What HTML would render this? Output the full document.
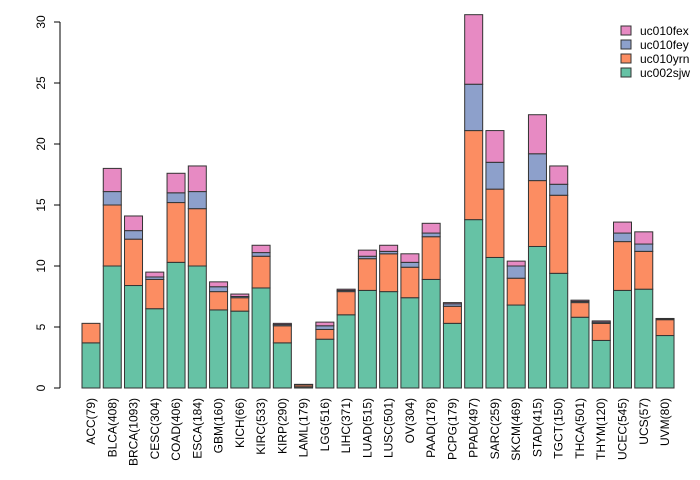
<!DOCTYPE html>
<html><head><meta charset="utf-8"><style>
body{margin:0;background:#fff}
svg{display:block;font-family:"Liberation Sans",sans-serif}
</style></head><body>
<svg id="chart" width="700" height="480"></svg>
<script>
const categories=["ACC(79)","BLCA(408)","BRCA(1093)","CESC(304)","COAD(406)","ESCA(184)","GBM(160)","KICH(66)","KIRC(533)","KIRP(290)","LAML(179)","LGG(516)","LIHC(371)","LUAD(515)","LUSC(501)","OV(304)","PAAD(178)","PCPG(179)","PPAD(497)","SARC(259)","SKCM(469)","STAD(415)","TGCT(150)","THCA(501)","THYM(120)","UCEC(545)","UCS(57)","UVM(80)"];
const seriesNames=["uc002sjw","uc010yrn","uc010fey","uc010fex"];
const uc002sjw=[3.7,10.0,8.4,6.5,10.3,10.0,6.4,6.3,8.2,3.7,0.1,4.0,6.0,8.0,7.9,7.4,8.9,5.3,13.8,10.7,6.8,11.6,9.4,5.8,3.9,8.0,8.1,4.3];
const uc010yrn=[1.6,5.0,3.8,2.4,4.9,4.7,1.5,1.1,2.6,1.4,0.15,0.8,1.9,2.6,3.1,2.5,3.5,1.4,7.3,5.6,2.2,5.4,6.4,1.2,1.4,4.0,3.1,1.3];
const uc010fey=[0,1.1,0.7,0.2,0.8,1.4,0.4,0.1,0.3,0.1,0.02,0.3,0.1,0.2,0.2,0.4,0.3,0.2,3.8,2.2,1.0,2.2,0.9,0.1,0.1,0.7,0.6,0.05];
const uc010fex=[0,1.9,1.2,0.4,1.6,2.1,0.4,0.2,0.6,0.1,0.03,0.3,0.1,0.5,0.5,0.7,0.8,0.1,5.7,2.6,0.4,3.2,1.5,0.1,0.1,0.9,1.0,0.05];
const yTicks=[0,5,10,15,20,25,30];
const series=[uc002sjw,uc010yrn,uc010fey,uc010fex];
const colors=["#66C2A5","#FC8D62","#8DA0CB","#E78AC3"];
const NS="http://www.w3.org/2000/svg";
const svg=document.getElementById('chart');
const y0=388,yScale=366/30;
const yPos=v=>y0-v*yScale;
const step=21.26,bw=18,x0=82;
const xPos=i=>x0+i*step;
function mk(t,a){const e=document.createElementNS(NS,t);for(const k in a)e.setAttribute(k,a[k]);svg.appendChild(e);return e;}
const ax=mk('line',{x1:60,x2:60,y1:yPos(0),y2:yPos(30),stroke:'#000'});


yTicks.forEach(t=>{
 const l=mk('line',{x1:54,x2:60,y1:yPos(t),y2:yPos(t),stroke:'#000'});
 
 
 const tx=mk('text',{x:0,y:0,'font-size':12,'text-anchor':'middle',transform:`translate(45,${yPos(t)}) rotate(-90)`});
 tx.textContent=t;
 
 
});
categories.forEach((c,i)=>{
 let cum=0;
 series.forEach((s,k)=>{
  const v=s[i]; if(v<=0) return;
  const r=mk('rect',{x:xPos(i),y:yPos(cum+v),width:bw,height:v*yScale,fill:colors[k],stroke:'#333','stroke-width':1});
  
  
  cum+=v;
 });
 const tx=mk('text',{x:0,y:0,'font-size':12,'text-anchor':'end',transform:`translate(${xPos(i)+bw/2+4},398) rotate(-90)`});
 tx.textContent=c;
 
 
});
[3,2,1,0].forEach((k,j)=>{
 const yy=26+j*14;
 const r=mk('rect',{x:621,y:yy,width:10,height:9,fill:colors[k],stroke:'#333'});
 
 
 const t=mk('text',{x:640,y:yy+9,'font-size':12});
 t.textContent=seriesNames[k];
 
 
});
</script>
</body></html>
